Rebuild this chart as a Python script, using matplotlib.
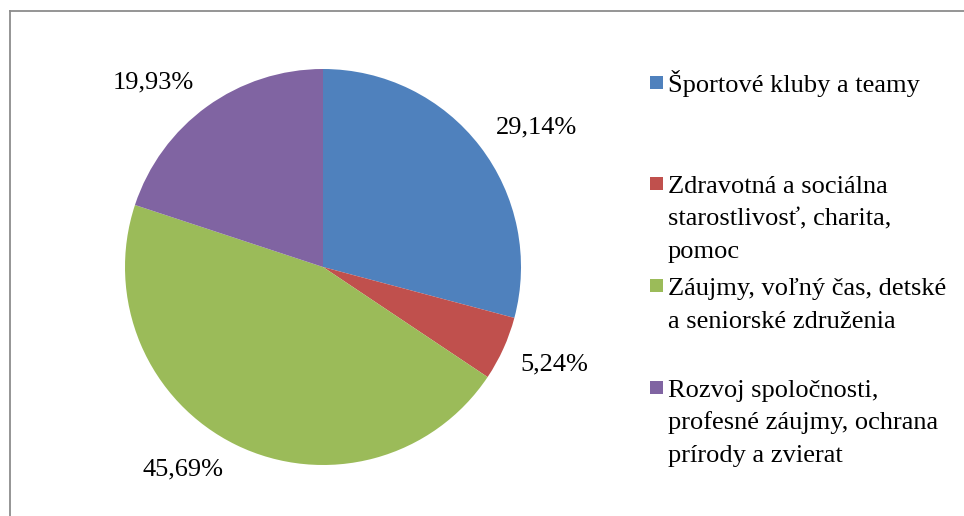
import numpy as np
import matplotlib.pyplot as plt
from matplotlib.patches import Rectangle

# data
kategorie = [
    "Športové kluby a teamy",
    "Zdravotná a sociálna\nstarostlivosť, charita,\npomoc",
    "Záujmy, voľný čas, detské\na seniorské združenia",
    "Rozvoj spoločnosti,\nprofesné záujmy, ochrana\nprírody a zvierat",
]
podiely = [29.14, 5.24, 45.69, 19.93]
popisky = ["29,14%", "5,24%", "45,69%", "19,93%"]
farby = ["#4F81BD", "#C0504D", "#9BBB59", "#8064A2"]

plt.rcParams['font.family'] = ['Liberation Serif', 'DejaVu Serif']

W, H = 964, 516
fig = plt.figure(figsize=(W / 100, H / 100), dpi=100)

# ramik okolo grafu (vidno len hore a vlavo)
fig.add_artist(plt.Line2D([9.5 / W, 9.5 / W], [0, 1 - 10.5 / H], color="#8c8c8c", lw=1.3))
fig.add_artist(plt.Line2D([9.5 / W, 1], [1 - 10.5 / H, 1 - 10.5 / H], color="#8c8c8c", lw=1.3))

# kolac
cx, cy, r = 323, 267, 198
ax = fig.add_axes([(cx - r) / W, (H - cy - r) / H, 2 * r / W, 2 * r / H])
wedges, _ = ax.pie(podiely, colors=farby, startangle=90, counterclock=False,
                   wedgeprops=dict(linewidth=0))
ax.set_xlim(-1, 1)
ax.set_ylim(-1, 1)
ax.set_aspect('equal')

# popisky hodnot mimo kolaca
vzdialenost = [1.288, 1.265, 1.245, 1.265]
posun = [-4.3, 1.5, -8.6, 6.8]
for w, txt, d, p in zip(wedges, popisky, vzdialenost, posun):
    uhol = np.deg2rad((w.theta1 + w.theta2) / 2 + p)
    ax.text(d * np.cos(uhol), d * np.sin(uhol), txt, ha='center', va='center',
            fontsize=19, clip_on=False)

# legenda - kazdy riadok zvlast, aby sedel riadkovy odstup
y_prvy = [92, 193, 295, 397]
for kat, f, yb in zip(kategorie, farby, y_prvy):
    fig.add_artist(Rectangle((650 / W, 1 - (yb - 3) / H), 13 / W, 13 / H,
                             facecolor=f, edgecolor='none'))
    for i, riadok in enumerate(kat.split("\n")):
        fig.text(668 / W, 1 - (yb + i * 32.5) / H, riadok, fontsize=19,
                 ha='left', va='baseline')

fig.savefig("out.png", dpi=100)
